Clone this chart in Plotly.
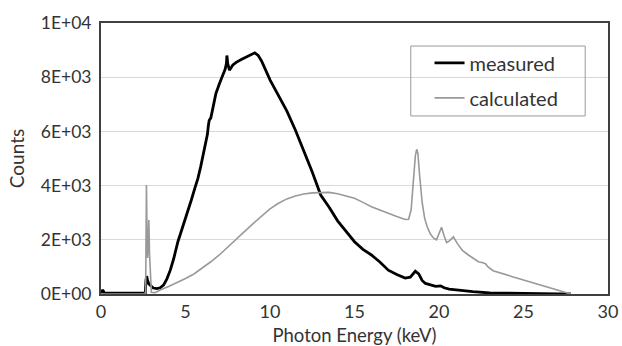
import plotly.graph_objects as go

# ---- data ----
measured_kev = [0.0, 0.1, 0.2, 0.5, 1.0, 1.5, 2.0, 2.5, 2.62, 2.66, 2.70, 2.75, 2.82, 2.9, 3.0, 3.1,
                3.3, 3.5, 3.7, 3.9, 4.1, 4.3, 4.55, 4.75, 4.95, 5.15, 5.34, 5.55, 5.73, 5.9, 6.05,
                6.2, 6.3, 6.35, 6.4, 6.5, 6.6, 6.8, 7.0, 7.2, 7.35, 7.42, 7.45, 7.5, 7.6, 7.8, 8.0,
                8.3, 8.6, 8.9, 9.1, 9.3, 9.5, 10.0, 10.5, 11.0, 11.5, 12.0, 12.5, 13.0, 13.5, 14.0,
                14.5, 15.0, 15.5, 16.0, 16.5, 17.0, 17.5, 18.0, 18.3, 18.6, 18.8, 19.0, 19.2, 19.5,
                19.8, 20.1, 20.3, 20.6, 21.0, 21.5, 22.0, 23.0, 24.0, 25.0, 26.0, 27.0, 27.8]
measured_counts = [30, 150, 40, 30, 35, 30, 25, 30, 40, 500, 660, 520, 380, 330, 260, 220,
                   200, 230, 330, 560, 880, 1300, 1930, 2300, 2730, 3100, 3460, 3900, 4260, 4700, 5150,
                   5600, 5900, 6200, 6400, 6500, 6800, 7400, 7750, 8070, 8300, 8500, 8800, 8500, 8260, 8450, 8550,
                   8650, 8750, 8850, 8900, 8800, 8600, 7900, 7300, 6750, 6050, 5300, 4500, 3650, 3200, 2700,
                   2300, 1930, 1650, 1440, 1180, 880, 720, 590, 620, 840, 740, 500, 390, 330,
                   280, 300, 230, 180, 150, 110, 85, 40, 25, 15, 10, 5, 0]

calculated_kev = [0.0, 2.6, 2.64, 2.69, 2.73, 2.76, 2.80, 2.83, 2.87, 2.92, 2.98, 3.2, 3.5, 4.0, 4.5,
                  5.0, 5.5, 6.0, 6.5, 7.0, 7.5, 8.0, 8.5, 9.0, 9.5, 10.0, 10.5, 11.0, 11.5, 12.0,
                  12.5, 13.0, 13.5, 14.0, 14.5, 15.0, 15.5, 16.0, 16.5, 17.0, 17.5, 18.0, 18.2, 18.35,
                  18.5, 18.6, 18.68, 18.75, 18.85, 19.0, 19.15, 19.3, 19.5, 19.7, 19.85, 20.0, 20.15,
                  20.3, 20.45, 20.6, 20.85, 21.1, 21.4, 21.74, 22.0, 22.33, 22.6, 22.75, 22.9, 23.2,
                  24.3, 25.0, 26.0, 27.0, 27.8]
calculated_counts = [0, 0, 100, 4020, 1800, 1330, 2000, 2730, 1500, 400, 60, 50, 150, 280, 420,
                     570, 740, 950, 1190, 1440, 1720, 2010, 2310, 2600, 2880, 3140, 3350, 3510, 3620, 3690,
                     3730, 3750, 3750, 3700, 3620, 3530, 3380, 3220, 3100, 2970, 2860, 2750, 2760, 3100,
                     4200, 5100, 5340, 5200, 4400, 3400, 2800, 2480, 2200, 2050, 2000, 2200, 2460,
                     2150, 1900, 1950, 2110, 1850, 1600, 1440, 1320, 1190, 1150, 1120, 1000, 860,
                     650, 520, 330, 150, 0]

x_ticks = [0, 5, 10, 15, 20, 25, 30]
y_ticks = [0, 2000, 4000, 6000, 8000, 10000]
y_tick_labels = ["0E+00", "2E+03", "4E+03", "6E+03", "8E+03", "1E+04"]

FONT = "Lato, Carlito, Calibri, sans-serif"
TXT = "#333333"

fig = go.Figure()
fig.add_trace(go.Scatter(x=measured_kev, y=measured_counts, mode="lines", name="measured",
                         line=dict(color="black", width=2.8), legendgroup="a"))
fig.add_trace(go.Scatter(x=calculated_kev, y=calculated_counts, mode="lines", name="calculated",
                         line=dict(color="#999999", width=1.6), legendgroup="b"))

fig.update_layout(
    width=622, height=346,
    margin=dict(l=101, r=12, t=23, b=52),
    paper_bgcolor="white", plot_bgcolor="white",
    font=dict(family=FONT, size=17, color=TXT),
    showlegend=True,
    legend=dict(x=0.648, y=0.925, xanchor="left", yanchor="top",
                bgcolor="rgba(0,0,0,0)", borderwidth=0,
                tracegroupgap=6, traceorder="grouped",
                font=dict(family=FONT, size=20, color=TXT)),
    shapes=[dict(type="rect", xref="paper", yref="paper",
                 x0=0.611, x1=0.955, y0=0.657, y1=0.915,
                 line=dict(color="#999999", width=1), fillcolor="rgba(0,0,0,0)")],
)
fig.update_xaxes(range=[0, 30], tickvals=x_ticks, showgrid=False, zeroline=False,
                 showline=True, mirror=True, linecolor="#404040", linewidth=2,
                 ticks="", automargin=False,
                 title=dict(text="Photon Energy (keV)", font=dict(size=18.5)),
                 tickfont=dict(size=18))
fig.update_yaxes(range=[0, 10000], tickvals=y_ticks, ticktext=y_tick_labels,
                 showgrid=True, gridcolor="#d9d9d9", gridwidth=1, zeroline=False,
                 showline=True, mirror=True, linecolor="#404040", linewidth=2,
                 ticks="outside", ticklen=4, tickcolor="rgba(0,0,0,0)",
                 automargin=True,
                 title=dict(text="Counts", font=dict(size=19), standoff=11),
                 tickfont=dict(size=17.5))

fig.write_html("out.html")
